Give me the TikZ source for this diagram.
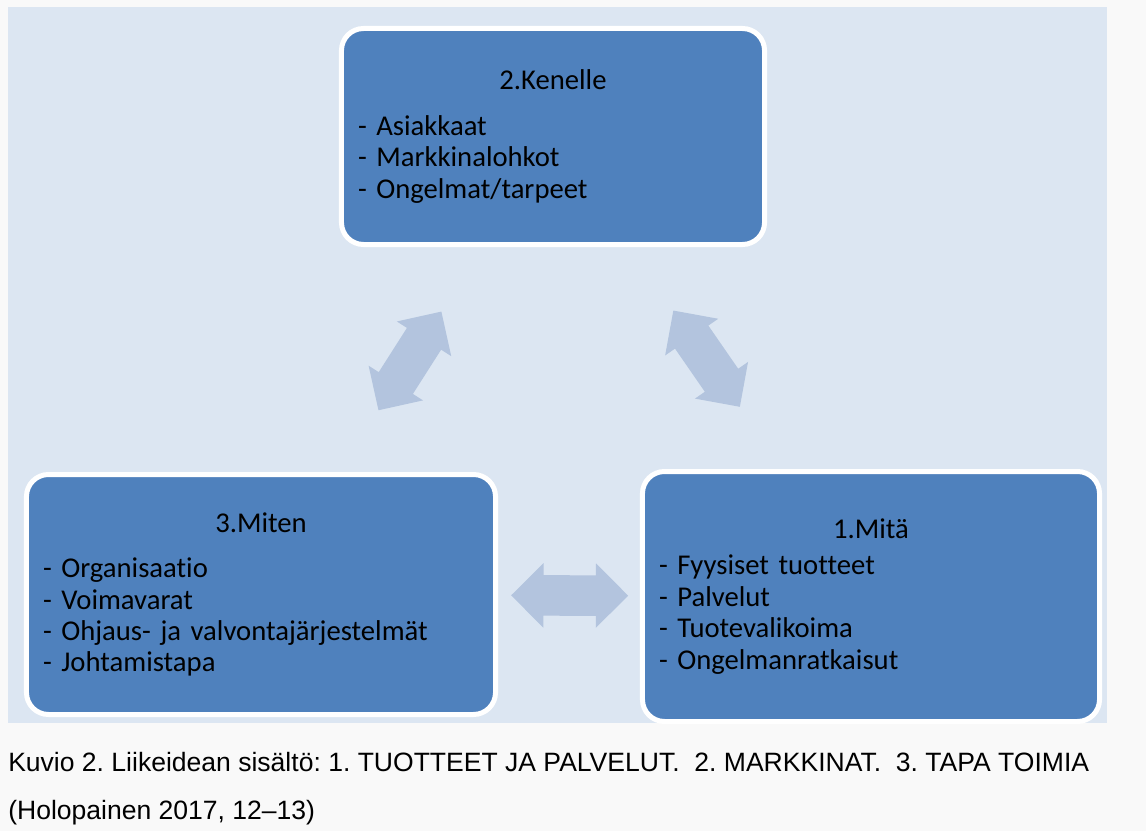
\documentclass[tikz,border=0pt]{standalone}
\usepackage{fontspec}
\setmainfont{Carlito}[Ligatures=NoCommon]
\newfontfamily\captionfont{Liberation Sans}
\usepackage{xcolor}
\usetikzlibrary{shapes.arrows}
\definecolor{pagegray}{HTML}{F9F9F9}
\definecolor{panelblue}{HTML}{DCE6F2}
\definecolor{boxblue}{HTML}{4F81BD}
\definecolor{arrowblue}{HTML}{B3C4DE}
\newcommand{\boxhead}[1]{\makebox[\linewidth][c]{#1}}
\tikzset{
  card/.style={draw=white, line width=3.75pt, fill=boxblue, rounded corners=16.5pt,
               align=left, inner xsep=12.4pt, inner ysep=0pt,
               font=\fontsize{21.5}{23.6}\selectfont},
  twoway/.style={double arrow, double arrow tip angle=90,
                 double arrow head extend=9pt, fill=arrowblue, draw=none,
                 minimum height=87.75pt, inner xsep=0pt, inner ysep=15pt},
  caption/.style={anchor=base west, inner sep=0pt,
                  font=\captionfont\frenchspacing\fontsize{19.9}{22}\selectfont}
}

\begin{document}
\begin{tikzpicture}[x=0.75pt, y=-0.75pt]
  \path[use as bounding box, fill=pagegray] (0,0) rectangle (1146,831);
  \fill[panelblue] (8,7) rectangle (1107,723);

  \node[card, text width=292.5pt, minimum height=162pt] (kenelle) at (553,136.5)
    {\boxhead{2.Kenelle}\\[10.5pt]
     - Asiakkaat\\
     - Markkinalohkot\\
     - Ongelmat/tarpeet};
  \node[card, text width=327pt, minimum height=180pt] (miten) at (261,594.5)
    {\boxhead{3.Miten}\\[10.5pt]
     - Organisaatio\\
     - Voimavarat\\
     - Ohjaus- ja valvontajärjestelmät\\
     - Johtamistapa};
  \node[card, text width=318pt, minimum height=187.5pt] (mita) at (871,596.5)
    {\boxhead{1.Mitä}\\[3.75pt]
     - Fyysiset tuotteet\\
     - Palvelut\\
     - Tuotevalikoima\\
     - Ongelmanratkaisut};

  \path (miten.center) -- node[twoway, sloped, pos=0.51] (mitenkenelle) {} (kenelle.center);
  \path (kenelle.center) -- node[twoway, sloped, pos=0.483] (kenellemita) {} (mita.center);
  \path (miten.center) -- node[twoway, sloped, pos=0.506] (mitenmita) {} (mita.center);

  \node[caption] (caption) at (8,771)
    {Kuvio 2. Liikeidean sisältö: 1. TUOTTEET JA PALVELUT.~ 2. MARKKINAT.~ 3. TAPA TOIMIA};
  \node[caption] (source) at (8,819) {(Holopainen 2017, 12–13)};
\end{tikzpicture}
\end{document}
